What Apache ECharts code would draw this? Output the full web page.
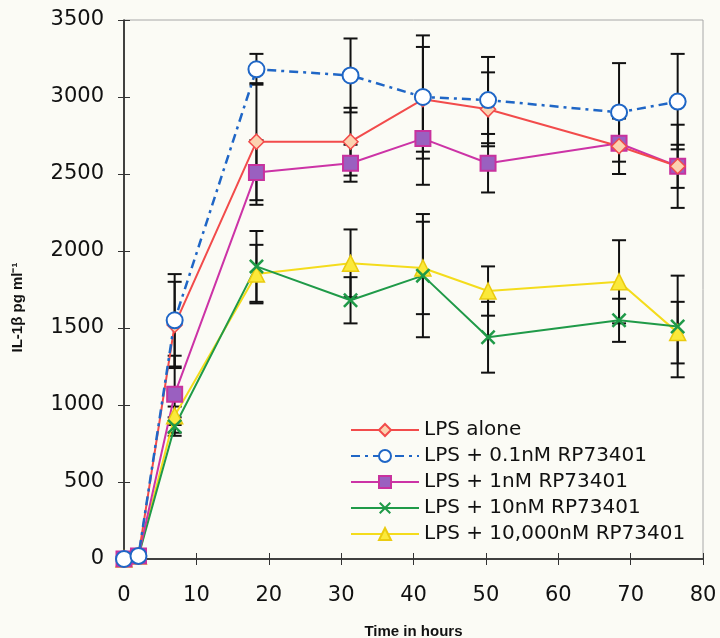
<!DOCTYPE html>
<html>
<head>
<meta charset="utf-8">
<title>IL-1β time course</title>
<script src="https://cdn.jsdelivr.net/npm/echarts@6/dist/echarts.min.js"></script>
<style>
  html, body { margin: 0; padding: 0; background: #fbfbf5; }
  #chart { width: 720px; height: 638px; }
</style>
</head>
<body>
<div id="chart"></div>
<script>
// time points (hours)
var times = [0, 2, 7, 18.3, 31.3, 41.3, 50.3, 68.4, 76.5];

// IL-1b (pg/ml) per treatment
var lpsAlone   = [0, 20, 1520, 2710, 2710, 2985, 2920, 2680, 2550];
var lps01nM    = [0, 20, 1550, 3180, 3140, 3000, 2980, 2900, 2970];
var lps1nM     = [0, 20, 1070, 2510, 2570, 2730, 2570, 2700, 2550];
var lps10nM    = [0, 20, 860, 1900, 1680, 1840, 1440, 1550, 1510];
var lps10000nM = [0, 20, 930, 1850, 1920, 1890, 1740, 1800, 1470];

// error bar half widths
var errAlone   = [0, 0, 280, 380, 220, 340, 240, 180, 270];
var err01nM    = [0, 0, 300, 100, 240, 400, 280, 320, 310];
var err1nM     = [0, 0, 250, 210, 120, 300, 190, 200, 140];
var err10nM    = [0, 0, 60, 230, 150, 400, 230, 140, 330];
var err10000nM = [0, 0, 60, 190, 220, 300, 160, 270, 200];

var names = [
  'LPS alone',
  'LPS + 0.1nM RP73401',
  'LPS + 1nM RP73401',
  'LPS + 10nM RP73401',
  'LPS + 10,000nM RP73401'
];

var xTicks = [0, 10, 20, 30, 40, 50, 60, 70, 80];
var yTicks = [0, 500, 1000, 1500, 2000, 2500, 3000, 3500];

var FONT = '"DejaVu Sans", Verdana, sans-serif';
var crossPath = 'path://M0,1.2L1.2,0L5,3.8L8.8,0L10,1.2L6.2,5L10,8.8L8.8,10L5,6.2L1.2,10L0,8.8L3.8,5Z';

function pairs(vals) {
  return times.map(function (t, i) { return [t, vals[i]]; });
}

function errData(vals, errs) {
  return times.map(function (t, i) { return [t, vals[i], errs[i]]; });
}

function errorSeries(vals, errs) {
  return {
    type: 'custom',
    z: 1,
    silent: true,
    data: errData(vals, errs),
    renderItem: function (params, api) {
      var x = api.value(0);
      var y = api.value(1);
      var e = api.value(2);
      if (!e) {
        return null;
      }
      var top = api.coord([x, y + e]);
      var bot = api.coord([x, y - e]);
      var half = 7;
      var style = { stroke: '#111', lineWidth: 2 };
      return {
        type: 'group',
        children: [
          { type: 'line', shape: { x1: top[0], y1: top[1], x2: bot[0], y2: bot[1] }, style: style },
          { type: 'line', shape: { x1: top[0] - half, y1: top[1], x2: top[0] + half, y2: top[1] }, style: style },
          { type: 'line', shape: { x1: bot[0] - half, y1: bot[1], x2: bot[0] + half, y2: bot[1] }, style: style }
        ]
      };
    }
  };
}

var chart = echarts.init(document.getElementById('chart'));

chart.setOption({
  backgroundColor: '#fbfbf5',
  animation: false,
  textStyle: { fontFamily: FONT },
  grid: {
    left: 124,
    right: 17,
    top: 20,
    bottom: 79,
    outerBoundsMode: 'none',
    show: true,
    borderColor: '#a8a8a8',
    borderWidth: 1,
    backgroundColor: 'transparent'
  },
  legend: {
    data: names,
    orient: 'vertical',
    left: 350,
    top: 420,
    padding: 0,
    itemWidth: 68,
    itemHeight: 15,
    itemGap: 6,
    textStyle: { fontSize: 20, color: '#111', fontFamily: FONT }
  },
  xAxis: [{
    type: 'value',
    min: 0,
    max: 80,
    interval: 10,
    name: 'Time in hours',
    nameLocation: 'middle',
    nameGap: 65,
    nameTextStyle: { fontSize: 15, fontWeight: 'bold', color: '#111', fontFamily: '"Liberation Sans", Arial, sans-serif' },
    axisLine: { show: true, onZero: false, lineStyle: { color: '#111', width: 1.5 } },
    axisTick: { show: true, length: 6, lineStyle: { color: '#333' } },
    axisLabel: { fontSize: 21, color: '#111', margin: 26, formatter: function (v) { return String(v); } },
    splitLine: { show: false }
  }, {
    type: 'value',
    min: 0,
    max: 80,
    interval: 10,
    position: 'bottom',
    axisLine: { show: false },
    axisTick: { show: true, inside: true, length: 6, lineStyle: { color: '#333' } },
    axisLabel: { show: false },
    splitLine: { show: false }
  }],
  yAxis: [{
    type: 'value',
    min: 0,
    max: 3500,
    interval: 500,
    name: 'IL-1β pg ml⁻¹',
    nameLocation: 'middle',
    nameGap: 99,
    nameTextStyle: { fontSize: 15, fontWeight: 'bold', color: '#111', padding: [0, 36, 0, 0], fontFamily: '"Liberation Sans", Arial, sans-serif' },
    axisLine: { show: true, onZero: false, lineStyle: { color: '#111', width: 1.5 } },
    axisTick: { show: true, length: 6, lineStyle: { color: '#333' } },
    axisLabel: { fontSize: 21, color: '#111', margin: 20, formatter: function (v) { return String(v); } },
    splitLine: { show: false }
  }, {
    type: 'value',
    min: 0,
    max: 3500,
    interval: 500,
    position: 'left',
    axisLine: { show: false },
    axisTick: { show: true, inside: true, length: 6, lineStyle: { color: '#333' } },
    axisLabel: { show: false },
    splitLine: { show: false }
  }],
  series: [
    errorSeries(lpsAlone, errAlone),
    errorSeries(lps01nM, err01nM),
    errorSeries(lps1nM, err1nM),
    errorSeries(lps10nM, err10nM),
    errorSeries(lps10000nM, err10000nM),
    {
      name: names[4],
      type: 'line',
      z: 3,
      data: pairs(lps10000nM),
      symbol: 'triangle',
      symbolSize: 16,
      lineStyle: { color: '#f4dc1c', width: 2 },
      itemStyle: { color: '#fbe93a', borderColor: '#eacb10', borderWidth: 1.5 }
    },
    {
      name: names[3],
      type: 'line',
      z: 3,
      data: pairs(lps10nM),
      symbol: crossPath,
      symbolSize: 15,
      lineStyle: { color: '#1f9a48', width: 2 },
      itemStyle: { color: '#1f9a48' }
    },
    {
      name: names[2],
      type: 'line',
      z: 3,
      data: pairs(lps1nM),
      symbol: 'rect',
      symbolSize: 15,
      lineStyle: { color: '#cc33a6', width: 2 },
      itemStyle: { color: '#9a60c0', borderColor: '#c8329e', borderWidth: 2 }
    },
    {
      name: names[0],
      type: 'line',
      z: 3,
      data: pairs(lpsAlone),
      symbol: 'diamond',
      symbolSize: 15,
      lineStyle: { color: '#f24b4b', width: 2 },
      itemStyle: { color: '#fcd2b0', borderColor: '#f24b4b', borderWidth: 1.5 }
    },
    {
      name: names[1],
      type: 'line',
      z: 3,
      data: pairs(lps01nM),
      symbol: 'circle',
      symbolSize: 16,
      lineStyle: { color: '#1f66c6', width: 2.5, type: [9, 5, 3, 5] },
      itemStyle: { color: '#ffffff', borderColor: '#1f66c6', borderWidth: 2 }
    }
  ]
});
</script>
</body>
</html>
